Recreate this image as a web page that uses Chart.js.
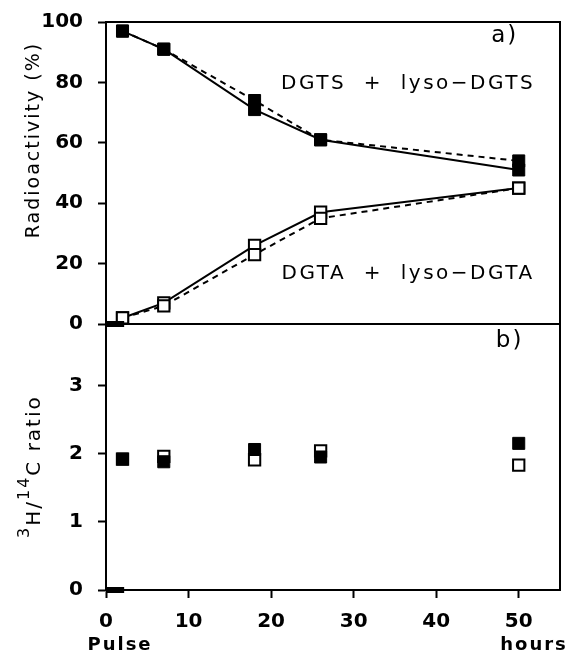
<!DOCTYPE html>
<html>
<head>
<meta charset="utf-8">
<script src="https://cdn.jsdelivr.net/npm/chart.js@4/dist/chart.umd.min.js"></script>
<style>
html, body { margin: 0; background: #fff; }
#wrap { width: 570px; height: 658px; }
</style>
</head>
<body>
<div id="wrap"><canvas id="myChart"></canvas></div>
<script>
// hours after pulse
var hours = [2, 7, 18, 26, 50];
// panel a: radioactivity (%)
var dgtsSolid = [97, 91, 71, 61, 51];
var dgtsDashed = [97, 91, 74, 61, 54];
var dgtaSolid = [2, 7, 26, 37, 45];
var dgtaDashed = [2, 6, 23, 35, 45];
// panel b: 3H/14C ratio
var ratioDgts = [1.92, 1.88, 2.06, 1.95, 2.15];
var ratioDgta = [1.92, 1.96, 1.91, 2.04, 1.83];
// pulse marks at time zero
var pulseX = [0, 2.2];
var pulseY = [0, 0];

var xTicks = [0, 10, 20, 30, 40, 50];
var radTicks = [0, 20, 40, 60, 80, 100];
var ratioTicks = [0, 1, 2, 3];

function pts(xs, ys) {
    return xs.map(function (x, i) { return {x: x, y: ys[i]}; });
}

function keepTicks(list) {
    return function (scale) {
        scale.ticks = list.map(function (v) { return {value: v}; });
    };
}

function fitY(s) {
    s.width = 106;
    s.paddingTop = 0;
    s.paddingBottom = 0;
}

var font = "'DejaVu Sans', 'Liberation Sans', sans-serif";

// draws pieces of text one after another, some raised
function drawRuns(c, runs) {
    var cx = 0;
    runs.forEach(function (r) {
        c.font = r.size + 'px ' + font;
        c.fillText(r.t, cx, r.dy);
        cx += c.measureText(r.t).width;
    });
}

var textPlugin = {
    id: 'texts',
    afterDraw: function (chart) {
        var c = chart.ctx;
        var a = chart.chartArea;
        var x = chart.scales.x;
        var yr = chart.scales.yRad;
        var yb = chart.scales.yRatio;
        c.save();
        c.strokeStyle = '#000';
        c.lineWidth = 2;
        c.strokeRect(a.left, a.top, a.right - a.left, a.bottom - a.top);
        c.beginPath();
        c.moveTo(a.left, yr.bottom);
        c.lineTo(a.right, yr.bottom);
        c.stroke();

        c.fillStyle = '#000';
        c.textAlign = 'center';
        c.textBaseline = 'middle';
        c.font = '20px ' + font;
        c.letterSpacing = '2.5px';
        c.fillText('DGTS  +  lyso\u2212DGTS', x.getPixelForValue(36.6), yr.getPixelForValue(79.5));
        c.fillText('DGTA  +  lyso\u2212DGTA', x.getPixelForValue(36.6), yr.getPixelForValue(16.5));
        c.letterSpacing = '2px';
        c.font = '23px ' + font;
        c.fillText('a)', x.getPixelForValue(48.3), yr.getPixelForValue(95.5));
        c.fillText('b)', x.getPixelForValue(48.9), yb.getPixelForValue(3.65));

        c.font = 'bold 18px ' + font;
        c.letterSpacing = '2px';
        c.fillText('Pulse', 120, 645);
        c.fillText('hours', 534, 645);

        c.textBaseline = 'alphabetic';
        c.font = '19px ' + font;
        c.letterSpacing = '2px';
        c.save();
        c.translate(39, 140);
        c.rotate(-Math.PI / 2);
        c.fillText('Radioactivity (%)', 0, 0);
        c.restore();

        c.save();
        c.textAlign = 'left';
        c.letterSpacing = '2px';
        c.translate(40, 538);
        c.rotate(-Math.PI / 2);
        drawRuns(c, [
            {t: '3', size: 16, dy: -11},
            {t: 'H/', size: 20, dy: 0},
            {t: '14', size: 16, dy: -11},
            {t: 'C ratio', size: 20, dy: 0}
        ]);
        c.restore();
        c.restore();
    }
};

var filled = {pointStyle: 'rect', pointRadius: 8.5, pointBackgroundColor: '#000', pointBorderColor: '#000', pointBorderWidth: 1};
var open = {pointStyle: 'rect', pointRadius: 8, pointBackgroundColor: '#fff', pointBorderColor: '#000', pointBorderWidth: 2};

function ds(data, axis, marker, dashed, line) {
    return Object.assign({
        data: data,
        yAxisID: axis,
        showLine: line,
        borderColor: '#000',
        borderWidth: 2,
        borderDash: dashed ? [6, 5] : [],
        clip: false
    }, marker);
}

var tickFont = {family: font, size: 20, weight: 'bold'};

var ctx = document.getElementById("myChart");
var myChart = new Chart(ctx, {
    type: 'scatter',
    data: {
        datasets: [
            {data: pts(pulseX, pulseY), yAxisID: 'yRad', showLine: true, borderColor: '#000', borderWidth: 6, pointRadius: 0, clip: false},
            {data: pts(pulseX, pulseY), yAxisID: 'yRatio', showLine: true, borderColor: '#000', borderWidth: 6, pointRadius: 0, clip: false},
            ds(pts(hours, ratioDgts), 'yRatio', filled, false, false),
            ds(pts(hours, ratioDgta), 'yRatio', open, false, false),
            ds(pts(hours, dgtsDashed), 'yRad', filled, true, true),
            ds(pts(hours, dgtsSolid), 'yRad', filled, false, true),
            ds(pts(hours, dgtaDashed), 'yRad', open, true, true),
            ds(pts(hours, dgtaSolid), 'yRad', open, false, true)
        ]
    },
    options: {
        responsive: true,
        maintainAspectRatio: false,
        animation: false,
        layout: {padding: {top: 22, right: 7, left: 0, bottom: 0}},
        plugins: {legend: {display: false}, tooltip: {enabled: false}},
        scales: {
            x: {
                type: 'linear', min: 0, max: 55,
                afterBuildTicks: keepTicks(xTicks),
                afterFit: function (s) { s.height = 68; s.paddingLeft = 0; s.paddingRight = 0; },
                grid: {drawOnChartArea: false, tickLength: 8, tickWidth: 2, color: '#000'},
                border: {color: '#000', width: 2},
                ticks: {color: '#000', padding: 12, font: tickFont}
            },
            yRatio: {
                type: 'linear', position: 'left', stack: 'panels', stackWeight: 266,
                min: 0, max: 3.9,
                afterBuildTicks: keepTicks(ratioTicks),
                afterFit: fitY,
                grid: {drawOnChartArea: false, tickLength: 8, tickWidth: 2, color: '#000'},
                border: {color: '#000', width: 2},
                ticks: {color: '#000', padding: 15, font: tickFont}
            },
            yRad: {
                type: 'linear', position: 'left', stack: 'panels', stackWeight: 302,
                min: 0, max: 100,
                afterBuildTicks: keepTicks(radTicks),
                afterFit: fitY,
                grid: {drawOnChartArea: false, tickLength: 8, tickWidth: 2, color: '#000'},
                border: {color: '#000', width: 2},
                ticks: {color: '#000', padding: 15, font: tickFont}
            }
        }
    },
    plugins: [textPlugin]
});
</script>
</body>
</html>
